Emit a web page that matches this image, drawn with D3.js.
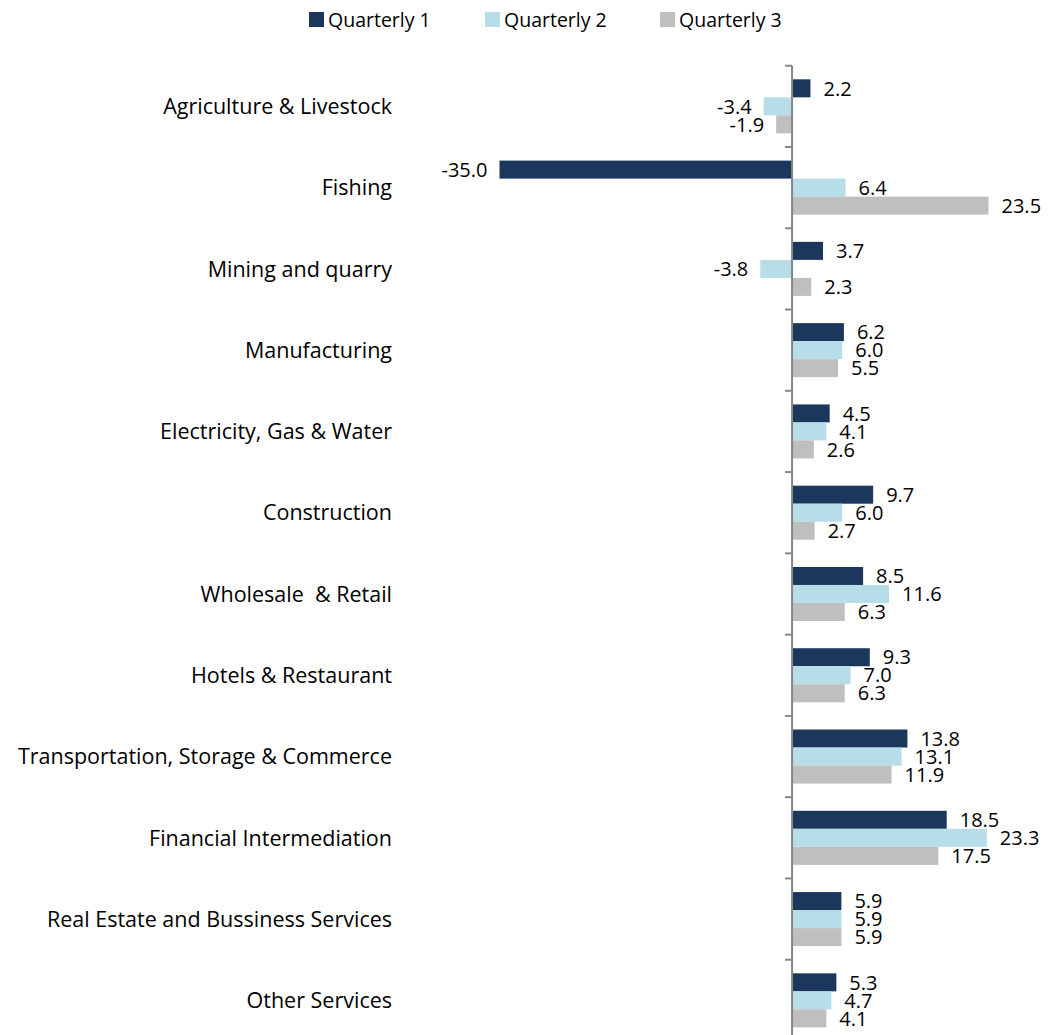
<!DOCTYPE html>
<html>
<head>
<meta charset="utf-8">
<script src="https://cdn.jsdelivr.net/npm/d3@7"></script>
<style>
  html, body { margin: 0; padding: 0; background: #fff; }
  svg text { font-family: "Open Sans", "Liberation Sans", Arial, sans-serif; fill: #000; white-space: pre; }
</style>
</head>
<body>
<svg id="chart" width="1061" height="1035"></svg>
<script>
// data
const categories = [
  "Agriculture & Livestock",
  "Fishing",
  "Mining and quarry",
  "Manufacturing",
  "Electricity, Gas & Water",
  "Construction",
  "Wholesale  & Retail",
  "Hotels & Restaurant",
  "Transportation, Storage & Commerce",
  "Financial Intermediation",
  "Real Estate and Bussiness Services",
  "Other Services"
];
const seriesNames = ["Quarterly 1", "Quarterly 2", "Quarterly 3"];
const q1 = [2.2, -35.0, 3.7, 6.2, 4.5, 9.7, 8.5, 9.3, 13.8, 18.5, 5.9, 5.3];
const q2 = [-3.4, 6.4, -3.8, 6.0, 4.1, 6.0, 11.6, 7.0, 13.1, 23.3, 5.9, 4.7];
const q3 = [-1.9, 23.5, 2.3, 5.5, 2.6, 2.7, 6.3, 6.3, 11.9, 17.5, 5.9, 4.1];
const seriesValues = [q1, q2, q3];
const colors = ["#1b375c", "#b7dde8", "#bfbfbf"];

const svg = d3.select("#chart");

// scales
const x = d3.scaleLinear().domain([-35, 23.5]).range([499.5, 988.5]);
const pInner = 0.335;
const y = d3.scaleBand()
    .domain(categories)
    .range([65.7, 1041])
    .paddingInner(pInner)
    .paddingOuter(pInner / 2);
const ySub = d3.scaleBand()
    .domain(seriesNames)
    .range([0, y.bandwidth()]);

const x0 = x(0);

// bars
const rows = categories.map((c, i) => ({ cat: c, vals: seriesValues.map(s => s[i]) }));
const gRows = svg.append("g").attr("class", "bars")
  .selectAll("g.row")
  .data(rows)
  .join("g")
    .attr("class", "row")
    .attr("transform", d => `translate(0,${y(d.cat)})`);

gRows.selectAll("rect")
  .data(d => d.vals.map((v, j) => ({ v, s: seriesNames[j], j })))
  .join("rect")
    .attr("x", d => Math.min(x(d.v), x0))
    .attr("y", d => ySub(d.s))
    .attr("width", d => Math.abs(x(d.v) - x0))
    .attr("height", ySub.bandwidth())
    .attr("fill", d => colors[d.j]);

gRows.selectAll("text.val")
  .data(d => d.vals.map((v, j) => ({ v, s: seriesNames[j], j })))
  .join("text")
    .attr("class", "val")
    .attr("x", d => d.v >= 0 ? x(d.v) + 13 : x(d.v) - 12)
    .attr("y", d => ySub(d.s) + ySub.bandwidth() / 2)
    .attr("dy", "0.36em")
    .attr("text-anchor", d => d.v >= 0 ? "start" : "end")
    .attr("font-size", 20)
    .text(d => d.v.toFixed(1));

// vertical axis with ticks at category boundaries
const step = y.step();
const boundaries = d3.range(categories.length + 1).map(i => y(categories[0]) - step * pInner / 2 + i * step);
const gAxis = svg.append("g").attr("class", "axis");
gAxis.append("line")
    .attr("x1", x0).attr("x2", x0)
    .attr("y1", boundaries[0]).attr("y2", boundaries[boundaries.length - 1])
    .attr("stroke", "#868686").attr("stroke-width", 2);
gAxis.selectAll("line.tick")
  .data(boundaries)
  .join("line")
    .attr("class", "tick")
    .attr("x1", x0 - 7).attr("x2", x0)
    .attr("y1", d => d).attr("y2", d => d)
    .attr("stroke", "#868686").attr("stroke-width", 2);

// category labels
svg.append("g").attr("class", "cats")
  .selectAll("text")
  .data(categories)
  .join("text")
    .attr("x", 392)
    .attr("y", d => y(d) + y.bandwidth() / 2)
    .attr("dy", "0.36em")
    .attr("text-anchor", "end")
    .attr("font-size", 21.5)
    .text(d => d);

// legend
const legendX = [309, 485, 660];
const legend = svg.append("g").attr("class", "legend")
  .selectAll("g")
  .data(seriesNames)
  .join("g")
    .attr("transform", (d, i) => `translate(${legendX[i]},12)`);
legend.append("rect")
    .attr("width", 15).attr("height", 15)
    .attr("fill", (d, i) => colors[i]);
legend.append("text")
    .attr("x", 19).attr("y", 7.5)
    .attr("dy", "0.36em")
    .attr("font-size", 19.5)
    .text(d => d);
</script>
</body>
</html>
